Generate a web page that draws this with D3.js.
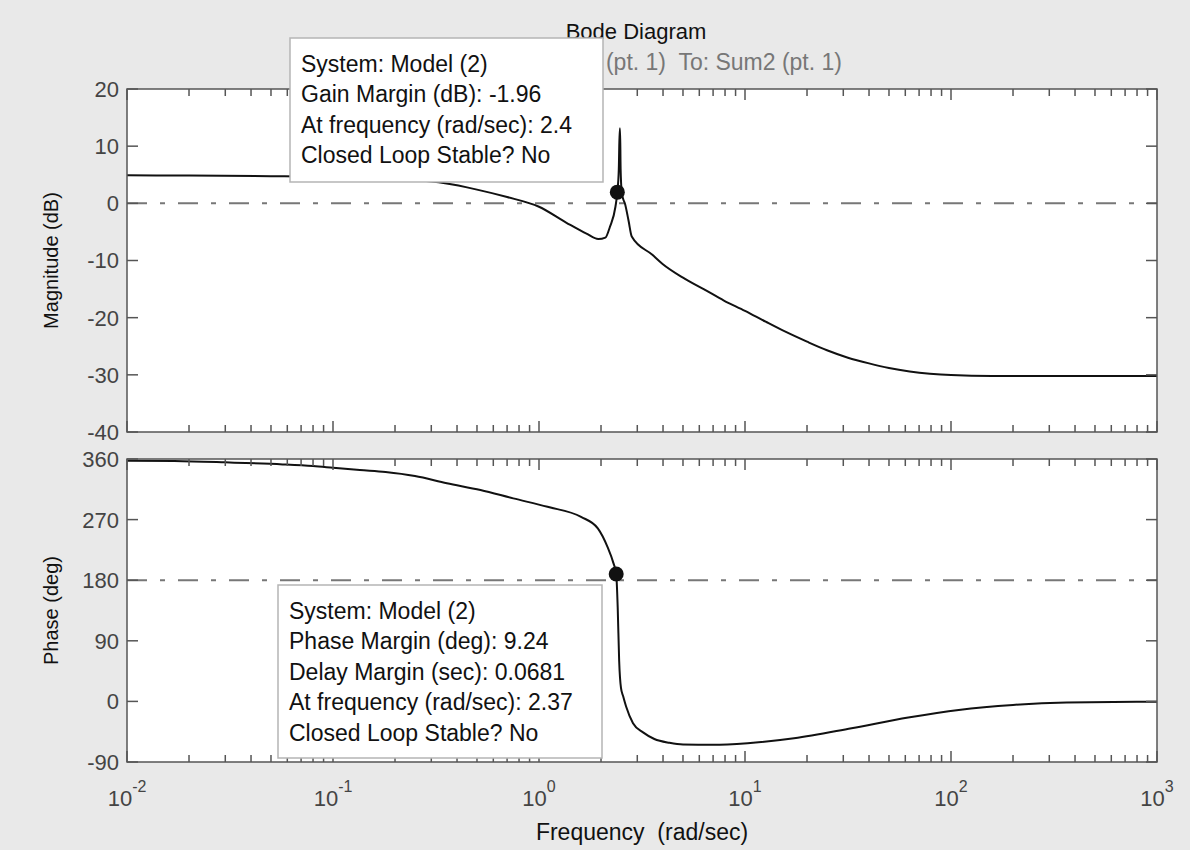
<!DOCTYPE html>
<html>
<head>
<meta charset="utf-8">
<script src="https://cdn.jsdelivr.net/npm/d3@7"></script>
<style>
    body { margin: 0; background: #e9e9e9; }
    svg { display: block; font-family: "Liberation Sans", Arial, sans-serif; }
    text { white-space: pre; }
</style>
</head>
<body>
<div id="chart"></div>
<script>
// magnitude response
var magFreq = [0.01, 0.02, 0.05, 0.1, 0.2, 0.3, 0.35, 0.5, 0.7, 1.0, 1.36, 1.7, 1.94, 2.1, 2.21, 2.35, 2.4, 2.44, 2.465, 2.475, 2.49, 2.52, 2.56, 2.61, 2.72, 2.82, 3.55, 3.98, 5.0, 6.3, 7.9, 10, 12.6, 15.8, 20, 25, 31.6, 40, 50, 63, 79, 100, 158, 1000];
var magDb = [4.9, 4.85, 4.75, 4.6, 4.2, 3.8, 3.5, 2.4, 1.1, -0.6, -3.4, -5.3, -6.25, -6.0, -4.1, -0.6, 1.96, 6.0, 13.1, 13.1, 6.0, 2.0, 0.8, 0, -3.0, -5.8, -9.0, -10.6, -13.0, -15.0, -17.0, -18.8, -20.7, -22.5, -24.2, -25.7, -27.0, -28.0, -28.8, -29.4, -29.8, -30.05, -30.2, -30.2];

// phase response
var phaseFreq = [0.01, 0.017, 0.03, 0.057, 0.08, 0.1, 0.135, 0.18, 0.25, 0.357, 0.52, 0.75, 1.1, 1.6, 1.93, 2.15, 2.3, 2.37, 2.41, 2.45, 2.5, 2.56, 2.65, 2.86, 3.2, 3.63, 4.3, 5.0, 7.0, 10.3, 17.3, 32.9, 62, 109, 200, 364, 1000];
var phaseDeg = [357.5, 357, 355, 352, 349.5, 347, 343.6, 340.7, 334.7, 324, 314, 301.5, 289, 274, 257, 229.5, 205, 189.24, 140, 60, 20, 8, -8, -32.5, -46, -55.8, -61.5, -64, -64.5, -62, -54.7, -39.8, -24, -12.6, -5.2, -1.7, -0.5];

var magTicks = [-40, -30, -20, -10, 0, 10, 20];
var phaseTicks = [-90, 0, 90, 180, 270, 360];
var decades = [-2, -1, 0, 1, 2, 3];

// margin points
var gainMargin = { freq: 2.4, value: 1.96 };
var phaseMargin = { freq: 2.37, value: 189.24 };

var gainLines = ["System: Model (2)", "Gain Margin (dB): -1.96", "At frequency (rad/sec): 2.4", "Closed Loop Stable? No"];
var phaseLines = ["System: Model (2)", "Phase Margin (deg): 9.24", "Delay Margin (sec): 0.0681", "At frequency (rad/sec): 2.37", "Closed Loop Stable? No"];

var width = 1190, height = 850;
var left = 127, right = 1157;
var magTop = 89, magBottom = 432;
var phTop = 459, phBottom = 762;
var majorLen = 11, minorLen = 7;
var frameColor = "#555";
var labelColor = "#444";

var svg = d3.select("#chart").append("svg")
    .attr("width", width)
    .attr("height", height);

svg.append("rect")
    .attr("width", width).attr("height", height)
    .attr("fill", "#e9e9e9");

var x = d3.scaleLog().domain([0.01, 1000]).range([left, right]);
var yMag = d3.scaleLinear().domain([-40, 20]).range([magBottom, magTop]);
var yPh = d3.scaleLinear().domain([-90, 360]).range([phBottom, phTop]);

var minorFreqs = [];
decades.slice(0, -1).forEach(function (d) {
    for (var m = 2; m <= 9; m++) minorFreqs.push(m * Math.pow(10, d));
});

function panel(name, y, yTicks, freqs, values, refValue, marker) {
    var top = y.range()[1], bottom = y.range()[0];
    var g = svg.append("g").attr("class", name);

    g.append("rect")
        .attr("x", left).attr("y", top)
        .attr("width", right - left).attr("height", bottom - top)
        .attr("fill", "#fff");

    g.append("clipPath").attr("id", "clip-" + name)
        .append("rect")
        .attr("x", left).attr("y", top)
        .attr("width", right - left).attr("height", bottom - top);

    // dash-dot reference line
    g.append("line")
        .attr("x1", left).attr("x2", right)
        .attr("y1", y(refValue)).attr("y2", y(refValue))
        .attr("stroke", "#777")
        .attr("stroke-width", 2)
        .attr("stroke-dasharray", "20,13,5,13");

    var line = d3.line()
        .x(function (d) { return x(d[0]); })
        .y(function (d) { return y(d[1]); })
        .curve(d3.curveMonotoneX);

    g.append("path")
        .datum(d3.zip(freqs, values))
        .attr("clip-path", "url(#clip-" + name + ")")
        .attr("d", line)
        .attr("fill", "none")
        .attr("stroke", "#111")
        .attr("stroke-width", 2);

    g.append("circle")
        .attr("cx", x(marker.freq))
        .attr("cy", y(marker.value))
        .attr("r", 7.5)
        .attr("fill", "#111");

    // ticks on all four sides, pointing in
    var ticks = g.append("g")
        .attr("stroke", frameColor)
        .attr("stroke-width", 1.5);

    var xt = decades.map(function (d) { return { f: Math.pow(10, d), len: majorLen }; })
        .concat(minorFreqs.map(function (f) { return { f: f, len: minorLen }; }));

    xt.forEach(function (t) {
        ticks.append("line")
            .attr("x1", x(t.f)).attr("x2", x(t.f))
            .attr("y1", bottom).attr("y2", bottom - t.len);
        ticks.append("line")
            .attr("x1", x(t.f)).attr("x2", x(t.f))
            .attr("y1", top).attr("y2", top + t.len);
    });

    yTicks.forEach(function (v) {
        ticks.append("line")
            .attr("x1", left).attr("x2", left + majorLen)
            .attr("y1", y(v)).attr("y2", y(v));
        ticks.append("line")
            .attr("x1", right).attr("x2", right - majorLen)
            .attr("y1", y(v)).attr("y2", y(v));
    });

    g.append("rect")
        .attr("x", left).attr("y", top)
        .attr("width", right - left).attr("height", bottom - top)
        .attr("fill", "none")
        .attr("stroke", frameColor)
        .attr("stroke-width", 1.5);

    g.selectAll(".ylab")
        .data(yTicks)
        .enter().append("text")
        .attr("class", "ylab")
        .attr("x", left - 8)
        .attr("y", function (d) { return y(d); })
        .attr("dy", "0.36em")
        .attr("text-anchor", "end")
        .attr("font-size", 22)
        .attr("fill", labelColor)
        .text(function (d) { return d; });
}

panel("mag", yMag, magTicks, magFreq, magDb, 0, gainMargin);
panel("phase", yPh, phaseTicks, phaseFreq, phaseDeg, 180, phaseMargin);

// x tick labels 10^n
var xl = svg.selectAll(".xlab")
    .data(decades)
    .enter().append("text")
    .attr("class", "xlab")
    .attr("x", function (d) { return x(Math.pow(10, d)); })
    .attr("y", 806)
    .attr("text-anchor", "middle")
    .attr("fill", labelColor)
    .attr("font-size", 22);
xl.append("tspan").text("10");
xl.append("tspan")
    .attr("dy", -14)
    .attr("font-size", 16)
    .text(function (d) { return d; });

// titles
svg.append("text")
    .attr("x", 636).attr("y", 39)
    .attr("text-anchor", "middle")
    .attr("font-size", 22)
    .attr("fill", "#111")
    .text("Bode Diagram");

svg.append("text")
    .attr("x", 842).attr("y", 70)
    .attr("text-anchor", "end")
    .attr("font-size", 23)
    .attr("fill", "#777")
    .text("From: Step (pt. 1)  To: Sum2 (pt. 1)");

svg.append("text")
    .attr("x", 642).attr("y", 840)
    .attr("text-anchor", "middle")
    .attr("font-size", 23)
    .attr("fill", "#111")
    .text("Frequency  (rad/sec)");

svg.append("text")
    .attr("transform", "translate(58," + (magTop + magBottom) / 2 + ") rotate(-90)")
    .attr("text-anchor", "middle")
    .attr("font-size", 20)
    .attr("fill", "#111")
    .text("Magnitude (dB)");

svg.append("text")
    .attr("transform", "translate(58," + (phTop + phBottom) / 2 + ") rotate(-90)")
    .attr("text-anchor", "middle")
    .attr("font-size", 20)
    .attr("fill", "#111")
    .text("Phase (deg)");

// data tip boxes
function tip(bx, by, bw, bh, lines, firstBase) {
    var g = svg.append("g");
    g.append("rect")
        .attr("x", bx).attr("y", by)
        .attr("width", bw).attr("height", bh)
        .attr("fill", "#fff")
        .attr("stroke", "#b5b5b5")
        .attr("stroke-width", 1.5);
    g.selectAll("text")
        .data(lines)
        .enter().append("text")
        .attr("x", bx + 11)
        .attr("y", function (d, i) { return firstBase + i * 30.4; })
        .attr("font-size", 23)
        .attr("fill", "#111")
        .text(function (d) { return d; });
}

tip(290, 38, 313, 144, gainLines, 72);
tip(278, 585, 324, 173, phaseLines, 619);
</script>
</body>
</html>
